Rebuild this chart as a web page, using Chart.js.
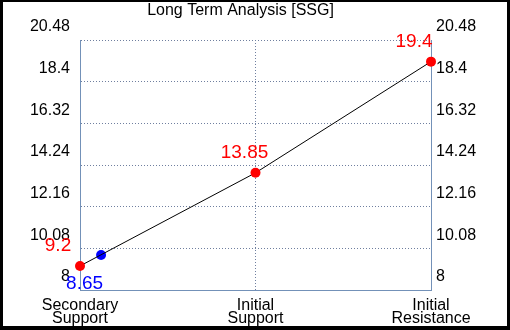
<!DOCTYPE html>
<html><head><meta charset="utf-8">
<script src="https://cdn.jsdelivr.net/npm/chart.js@4"></script>
<style>
html,body{margin:0;padding:0;background:#000;width:510px;height:330px;overflow:hidden}
#wrap{position:absolute;left:3px;top:2px;width:504px;height:324px;background:#fff}
</style></head><body>
<div id="wrap"><canvas id="c" width="504" height="324" style="width:504px;height:324px"></canvas></div>
<script>
const chartTitle = 'Long Term Analysis [SSG]';
const categories = [['Secondary', 'Support'], ['Initial', 'Support'], ['Initial', 'Resistance']];
const levelValues = [9.2, 13.85, 19.4];
const levelLabels = ['9.2', '13.85', '19.4'];
const currentPosition = [0.12];
const currentValue = [9.75];
const currentLabel = ['8.65'];
const yTickValues = [8, 10.08, 12.16, 14.24, 16.32, 18.4, 20.48];

const FONT = "'Liberation Sans', Arial, sans-serif";
const AXIS_COLOR = '#7391b8';
const GRID_COLOR = '#6f7f9f';

const labelPlugin = {
  id: 'labels',
  afterDraw(chart) {
    const ctx = chart.ctx;
    ctx.save();
    ctx.fillStyle = '#000';
    ctx.font = '16px ' + FONT;
    ctx.textAlign = 'center';
    ctx.textBaseline = 'alphabetic';
    ctx.fillText(chartTitle, chart.width / 2 - 14.5, 13);
    const lvlOff = [[-22, -15], [-11, -15], [-17, -15]];
    ctx.font = '19px ' + FONT;
    ctx.fillStyle = '#ff0000';
    chart.getDatasetMeta(0).data.forEach((pt, i) => {
      ctx.fillText(levelLabels[i], pt.x + lvlOff[i][0], pt.y + lvlOff[i][1]);
    });
    ctx.fillStyle = '#0000ff';
    chart.getDatasetMeta(1).data.forEach((pt, i) => {
      ctx.fillText(currentLabel[i], pt.x - 16.5, pt.y + 34.5);
    });
    ctx.restore();
  }
};

const yScaleBase = (pos) => ({
  type: 'linear',
  position: pos,
  min: yTickValues[0],
  max: yTickValues[yTickValues.length - 1],
  afterBuildTicks: (s) => { s.ticks = yTickValues.map(v => ({ value: v })); },
  afterFit: (s) => { s.width = pos === 'left' ? 77 : 76; },
  ticks: {
    autoSkip: false,
    color: '#000',
    font: { family: FONT, size: 16 },
    padding: pos === 'left' ? 10 : 5,
    labelOffset: -13,
    callback: (v) => String(v)
  },
  grid: { display: pos === 'left', drawTicks: false, color: GRID_COLOR, lineWidth: 1 },
  border: { display: true, color: AXIS_COLOR, width: 1, dash: [1, 2] }
});

new Chart(document.getElementById('c'), {
  type: 'scatter',
  data: {
    datasets: [
      {
        data: levelValues.map((v, i) => ({ x: i, y: v })),
        showLine: true,
        borderColor: '#000',
        borderWidth: 1,
        pointRadius: 5,
        pointHoverRadius: 5,
        pointBackgroundColor: '#ff0000',
        pointBorderColor: '#ff0000',
        pointBorderWidth: 0,
        clip: false,
        yAxisID: 'y'
      },
      {
        data: currentValue.map((v, i) => ({ x: currentPosition[i], y: v })),
        showLine: false,
        pointRadius: 5,
        pointHoverRadius: 5,
        pointBackgroundColor: '#0000ff',
        pointBorderColor: '#0000ff',
        pointBorderWidth: 0,
        clip: false,
        yAxisID: 'y'
      }
    ]
  },
  options: {
    responsive: false,
    animation: false,
    devicePixelRatio: 1,
    layout: { padding: { top: 38, left: 0, right: 0, bottom: 0 } },
    plugins: { legend: { display: false }, title: { display: false }, tooltip: { enabled: false } },
    events: [],
    scales: {
      x: {
        type: 'linear',
        min: 0,
        max: categories.length - 1,
        afterBuildTicks: (s) => { s.ticks = categories.map((c, i) => ({ value: i })); },
        afterFit: (s) => { s.height = 36; },
        ticks: {
          autoSkip: false,
          maxRotation: 0,
          color: '#000',
          font: { family: FONT, size: 16, lineHeight: 0.8125 },
          padding: 9,
          callback: (v, i) => categories[i]
        },
        grid: { drawTicks: false, color: GRID_COLOR, lineWidth: 1 },
        border: { display: true, color: AXIS_COLOR, width: 1, dash: [1, 2] }
      },
      y: yScaleBase('left'),
      y2: yScaleBase('right')
    }
  },
  plugins: [labelPlugin]
});
</script>
</body></html>
